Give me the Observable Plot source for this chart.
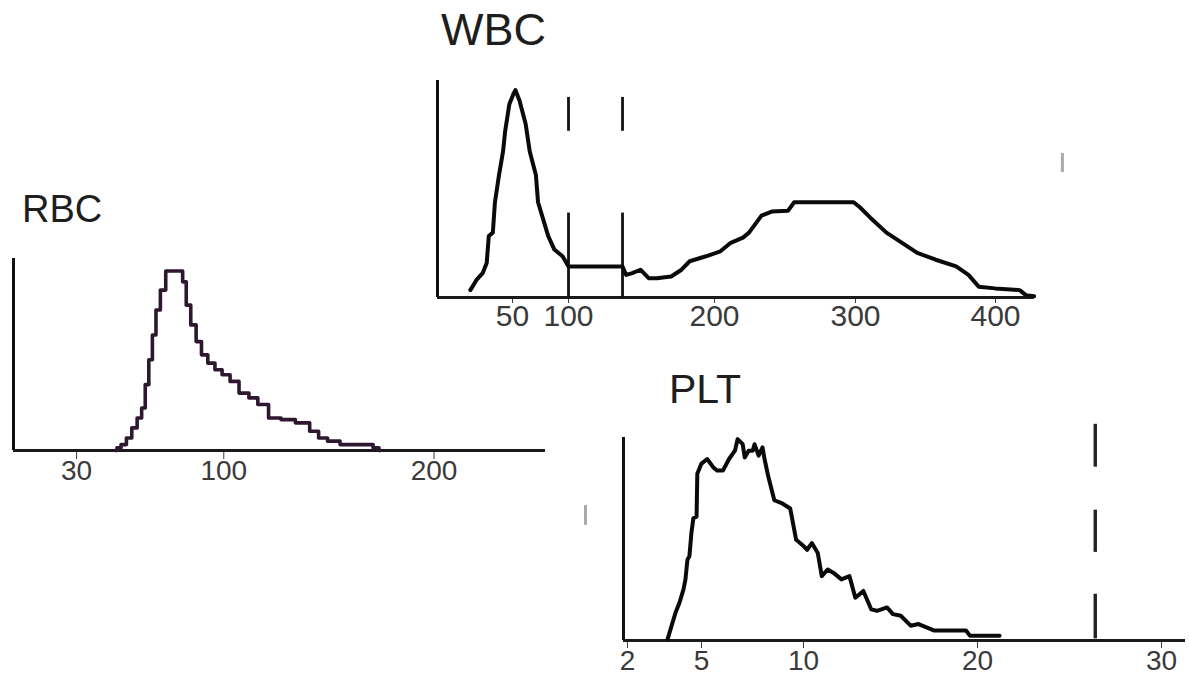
<!DOCTYPE html>
<html>
<head>
<meta charset="utf-8">
<script src="https://cdn.jsdelivr.net/npm/d3@7"></script>
<script src="https://cdn.jsdelivr.net/npm/@observablehq/plot@0.6"></script>
<style>
  html, body { margin: 0; padding: 0; background: #fff; }
  #wrap { position: relative; width: 1189px; height: 678px; overflow: hidden;
          font-family: "Liberation Sans", Arial, sans-serif; }
  .title { position: absolute; color: #1e1e1e; white-space: nowrap; line-height: 1; }
  svg { position: absolute; }
</style>
</head>
<body>
<div id="wrap"></div>
<script>
// ---------------- RBC ----------------
const rbcVolume = [48.5, 49.9, 52.4, 55.0, 57.5, 60.1, 61.8, 63.5, 65.2, 66.9, 68.6, 71.1, 73.7, 79.6, 81.3, 83.0, 85.6, 88.1, 90.7, 94.1, 97.5, 100.9, 105.1, 109.4, 114.5, 117.9, 124.7, 129.8, 138.3, 143.4, 146.8, 151.9, 158.7, 168.9, 173.1, 174.5];
const rbcCount  = [0, 1.5, 3.3, 7, 12.6, 18.1, 23.7, 36.7, 50.6, 64.4, 78.3, 89.4, 100, 100, 94, 81, 70, 60.7, 53.3, 48.7, 45, 42.2, 38.5, 32, 29.3, 25.6, 18.1, 17.2, 15.4, 10.7, 7, 5.2, 3.3, 3.3, 1.5, 0];
const rbcTicks = [30, 100, 200];
const rbcXMax = 253;
const rbcYTop = 107;

// ---------------- WBC ----------------
const wbcSize = [21.9, 26.0, 30.1, 32.8, 34.2, 36.9, 38.3, 41.0, 43.7, 45.1, 47.9, 50.8, 52.6, 56.3, 61.8, 65.4, 70.9, 72.8, 76.4, 81.9, 87.4, 94.7, 100, 137, 139.5, 143.7, 149.3, 154.9, 160.5, 170.3, 177.4, 183.0, 194.2, 204.2, 211.5, 220.2, 224.5, 228.9, 233.3, 240.6, 252.2, 256.5, 298.7, 303.1, 310.4, 322.1, 336.8, 344.1, 357.3, 371.9, 380.7, 388.0, 399.7, 415.9, 420.0, 425.4];
const wbcCount = [3.4, 8.1, 11.2, 15.9, 28.3, 29.9, 43.9, 56.4, 67.3, 76.6, 89.1, 93.8, 95.6, 90.7, 79.8, 67.3, 56.4, 43.9, 37.7, 28.3, 22.1, 19.0, 14.3, 14.3, 10.4, 11.2, 12.8, 8.9, 8.9, 9.7, 12.8, 16.7, 19.0, 21.3, 25.2, 27.6, 29.9, 33.8, 37.7, 39.6, 40.0, 43.9, 43.9, 41.6, 36.9, 29.9, 23.7, 20.6, 17.4, 14.3, 10.4, 5.0, 4.2, 3.4, 1.1, 0.6];
const wbcTicks = [50, 100, 200, 300, 400];
const wbcDividers = [100, 137];
const wbcDividerLower = [0, 38.9];
const wbcDividerUpper = [76.6, 92.2];
const wbcScaleDomain = [0, 50, 100, 200, 300, 400, 425];
const wbcXMax = 425.5;
const wbcYTop = 100;
const wbcStray = {x: 444, y1: 57.6, y2: 66.4};

// ---------------- PLT ----------------
const pltSize = [3.63, 3.79, 3.95, 4.11, 4.27, 4.35, 4.43, 4.51, 4.59, 4.67, 4.80, 4.83, 4.99, 5.28, 5.57, 5.76, 6.05, 6.35, 6.64, 6.77, 7.02, 7.12, 7.31, 7.51, 7.60, 7.80, 7.99, 8.09, 8.28, 8.57, 8.96, 9.35, 9.64, 9.93, 10.21, 10.48, 10.82, 11.05, 11.39, 11.73, 12.18, 12.64, 12.98, 13.44, 13.89, 14.23, 14.80, 15.14, 15.59, 16.16, 16.61, 17.07, 17.52, 18.43, 19.34, 19.56, 20.66, 21.2];
const pltCount = [0.8, 7.3, 13.8, 18.7, 25.2, 30.1, 39.8, 41.5, 52.8, 60.2, 61.0, 82.1, 87.0, 89.4, 85.4, 83.7, 83.7, 89.4, 93.5, 99.2, 96.7, 90.2, 93.5, 93.5, 96.7, 91.1, 95.1, 89.4, 80.5, 69.1, 67.5, 65.0, 49.6, 47.2, 44.7, 48.0, 43.1, 31.7, 35.0, 33.3, 30.1, 31.7, 21.1, 24.4, 15.4, 14.6, 16.3, 13.0, 12.2, 7.3, 8.1, 6.5, 4.9, 4.9, 4.9, 2.4, 2.4, 2.4];
const pltTicks = [2, 5, 10, 20, 30];
const pltScaleDomain = [1.84, 5, 10, 20, 30, 31.3];
const pltXMin = 1.84;
const pltXMax = 31.3;
const pltYTop = 100;
const pltMarker = 26.4;
const pltMarkerSegments = [[0.8, 22.8], [43.4, 64.2], [85.4, 106.5]];
const pltStray = {x: 0.3, y1: 56.7, y2: 66.5};

// --------------------------------------------------
const wrap = document.getElementById("wrap");
const zip = (xs, ys) => xs.map((x, i) => ({x, y: ys[i]}));

function place(el, left, top) {
  el.style.position = "absolute";
  el.style.left = left + "px";
  el.style.top = top + "px";
  wrap.appendChild(el);
}
function addTitle(text, left, top, size) {
  const d = document.createElement("div");
  d.className = "title";
  d.textContent = text;
  d.style.fontSize = size + "px";
  place(d, left, top);
}

// RBC
const rbc = Plot.plot({
  width: 560, height: 255,
  marginLeft: 13, marginRight: 15, marginTop: 13, marginBottom: 50,
  x: {domain: [0, rbcXMax], ticks: rbcTicks, tickSize: 9, tickPadding: 1, label: null},
  y: {domain: [0, rbcYTop], axis: null},
  style: {fontFamily: "Liberation Sans, Arial, sans-serif", fontSize: "28px", color: "#3a3a3a", background: "transparent", overflow: "visible"},
  marks: [
    Plot.ruleX([0], {y1: 0, y2: rbcYTop, stroke: "#111", strokeWidth: 3}),
    Plot.ruleY([0], {x1: 0, x2: rbcXMax, stroke: "#1a1a1a", strokeWidth: 3.2}),
    Plot.line(zip(rbcVolume, rbcCount), {x: "x", y: "y", curve: "step", stroke: "#2e1830", strokeWidth: 3.6})
  ]
});
place(rbc, 0, 245);

// WBC
const wbc = Plot.plot({
  width: 680, height: 290,
  marginLeft: 17, marginRight: 20, marginTop: 20, marginBottom: 53,
  x: {type: "linear", domain: wbcScaleDomain, range: [17, 92, 148, 294, 435, 575, 613],
      ticks: wbcTicks, tickSize: 6, tickPadding: 1, label: null},
  y: {domain: [0, wbcYTop], axis: null},
  style: {fontFamily: "Liberation Sans, Arial, sans-serif", fontSize: "30px", color: "#3a3a3a", background: "transparent", overflow: "visible"},
  marks: [
    Plot.ruleX([0], {y1: 0, y2: wbcYTop, stroke: "#111", strokeWidth: 3}),
    Plot.ruleY([0], {x1: 0, x2: wbcXMax, stroke: "#1a1a1a", strokeWidth: 3.2}),
    Plot.ruleX(wbcDividers, {y1: wbcDividerLower[0], y2: wbcDividerLower[1], stroke: "#111", strokeWidth: 2.8}),
    Plot.ruleX(wbcDividers, {y1: wbcDividerUpper[0], y2: wbcDividerUpper[1], stroke: "#111", strokeWidth: 2.8}),
    Plot.ruleX([wbcStray], {x: "x", y1: "y1", y2: "y2", stroke: "#aaa", strokeWidth: 3}),
    Plot.line(zip(wbcSize, wbcCount), {x: "x", y: "y", stroke: "#0a0a0a", strokeWidth: 4})
  ]
});
place(wbc, 420, 60);

// PLT
const plt = Plot.plot({
  width: 619, height: 268,
  marginLeft: 53, marginRight: 4, marginTop: 27, marginBottom: 38,
  x: {type: "linear", domain: pltScaleDomain, range: [53, 131, 233, 407, 591, 615],
      ticks: pltTicks, tickSize: 8, tickPadding: 2, label: null},
  y: {domain: [0, pltYTop], axis: null},
  style: {fontFamily: "Liberation Sans, Arial, sans-serif", fontSize: "28px", color: "#3a3a3a", background: "transparent", overflow: "visible"},
  marks: [
    Plot.ruleX([pltXMin], {y1: 0, y2: pltYTop, stroke: "#111", strokeWidth: 3}),
    Plot.ruleY([0], {x1: pltXMin, x2: pltXMax, stroke: "#1a1a1a", strokeWidth: 3.2}),
    Plot.ruleX(pltMarkerSegments, {x: pltMarker, y1: d => d[0], y2: d => d[1], stroke: "#222", strokeWidth: 3.4}),
    Plot.ruleX([pltStray], {x: "x", y1: "y1", y2: "y2", stroke: "#aaa", strokeWidth: 3}),
    Plot.line(zip(pltSize, pltCount), {x: "x", y: "y", stroke: "#0a0a0a", strokeWidth: 4})
  ]
});
place(plt, 570, 410);

addTitle("RBC", 22, 190, 38);
addTitle("WBC", 441, 7, 45);
addTitle("PLT", 669, 369, 41);
</script>
</body>
</html>
